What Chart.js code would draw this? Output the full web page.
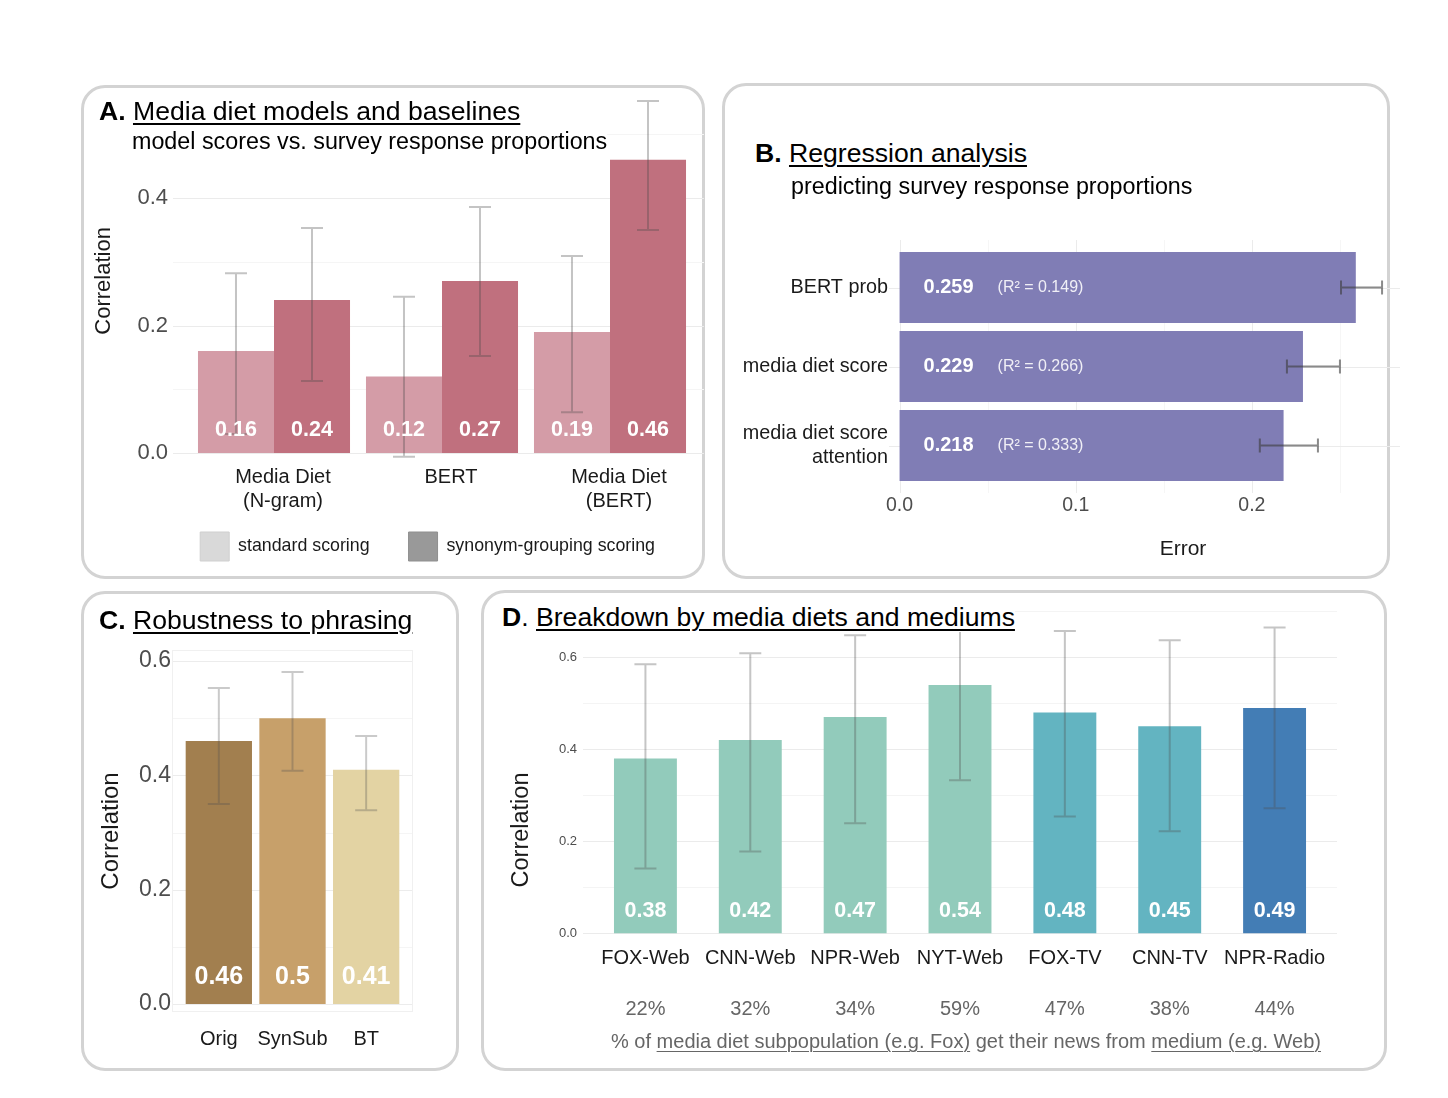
<!DOCTYPE html>
<html><head><meta charset="utf-8">
<script src="https://cdn.jsdelivr.net/npm/chart.js@4.4.1/dist/chart.umd.min.js"></script>
<style>
body{margin:0;background:#fff;width:1448px;height:1098px;position:relative;overflow:hidden;font-family:"Liberation Sans",Arial,Helvetica,sans-serif;}
.box{position:absolute;border:3px solid #d3d3d3;border-radius:24px;box-sizing:border-box;}
.cv{position:absolute;}
.wrap{position:absolute;overflow:hidden;}
.ttl{position:absolute;background:#fff;color:#000;font-size:26.6px;line-height:30px;white-space:nowrap;}
.ttl u{text-decoration-thickness:2px;text-underline-offset:3px;}
.sub{position:absolute;background:#fff;color:#000;font-size:23.3px;line-height:26px;white-space:nowrap;}
.foot{position:absolute;color:#666;font-size:20px;line-height:24px;white-space:nowrap;text-align:center;}
.foot u{text-decoration-thickness:1px;text-underline-offset:3px;}
.ytl{position:absolute;color:#1a1a1a;font-size:23.5px;line-height:28px;white-space:nowrap;width:200px;text-align:center;transform:rotate(-90deg);}
</style>
</head><body>
<div class="box" style="left:81px;top:85px;width:624px;height:494px"></div>
<div class="box" style="left:722px;top:83px;width:668px;height:496px"></div>
<div class="box" style="left:81px;top:591px;width:378px;height:480px"></div>
<div class="box" style="left:481px;top:590px;width:906px;height:481px"></div>

<canvas id="cA" class="cv" style="left:82px;top:86px;width:622px;height:492px" width="622" height="492"></canvas>
<div class="wrap" style="left:723px;top:84px;width:677px;height:494px">
<canvas id="cB" style="position:absolute;left:0;top:0;width:757px;height:494px" width="757" height="494"></canvas>
</div>
<canvas id="cC" class="cv" style="left:82px;top:592px;width:376px;height:478px" width="376" height="478"></canvas>
<canvas id="cD" class="cv" style="left:482px;top:592px;width:904px;height:478px" width="904" height="478"></canvas>

<div class="ttl" style="left:99px;top:96px"><b>A.</b> <u>Media diet models and baselines</u></div>
<div class="sub" style="left:132px;top:128px">model scores vs. survey response proportions</div>
<div class="ttl" style="left:755px;top:138px"><b>B.</b> <u>Regression analysis</u></div>
<div class="sub" style="left:791px;top:173px">predicting survey response proportions</div>
<div class="ttl" style="left:99px;top:605px"><b>C.</b> <u>Robustness to phrasing</u></div>
<div class="ttl" style="left:502px;top:602px"><b>D</b>. <u>Breakdown by media diets and mediums</u></div>
<div class="ytl" style="left:420px;top:816px">Correlation</div>
<div class="foot" style="left:566px;top:1029px;width:800px">% of <u>media diet subpopulation (e.g. Fox)</u> get their news from <u>medium (e.g. Web)</u></div>

<script>
// ---------- DATA ----------
const aCats = [['Media Diet','(N-gram)'], 'BERT', ['Media Diet','(BERT)']];
const aSeries = ['standard scoring', 'synonym-grouping scoring'];
const aStd = [0.16, 0.12, 0.19];
const aSyn = [0.24, 0.27, 0.46];
const aStdLow = [0.03, -0.006, 0.064];
const aStdHigh = [0.282, 0.245, 0.309];
const aSynLow = [0.113, 0.152, 0.35];
const aSynHigh = [0.353, 0.386, 0.552];
const aTicks = [0, 0.2, 0.4];
const aMinor = [0.1, 0.3, 0.5];

const bCats = ['BERT prob', 'media diet score', ['media diet score', 'attention']];
const bErr = [0.259, 0.229, 0.218];
const bR2 = ['0.149', '0.266', '0.333'];
const bLow = [0.2506, 0.2199, 0.2045];
const bHigh = [0.2739, 0.25, 0.2375];
const bTicks = [0, 0.1, 0.2, 0.3];
const bMinor = [0.05, 0.15, 0.25];

const cCats = ['Orig', 'SynSub', 'BT'];
const cVals = [0.46, 0.5, 0.41];
const cLow = [0.35, 0.408, 0.339];
const cHigh = [0.553, 0.581, 0.469];
const cTicks = [0, 0.2, 0.4, 0.6];
const cMinor = [0.1, 0.3, 0.5];

const dCats = ['FOX-Web', 'CNN-Web', 'NPR-Web', 'NYT-Web', 'FOX-TV', 'CNN-TV', 'NPR-Radio'];
const dVals = [0.38, 0.42, 0.47, 0.54, 0.48, 0.45, 0.49];
const dLow = [0.141, 0.178, 0.239, 0.333, 0.254, 0.222, 0.272];
const dHigh = [0.585, 0.609, 0.648, 0.665, 0.657, 0.637, 0.665];
const dPct = ['22%', '32%', '34%', '59%', '47%', '38%', '44%'];
const dTicks = [0, 0.2, 0.4, 0.6];
const dMinor = [0.1, 0.3, 0.5, 0.7];

// ---------- STYLES ----------
const aColors = ['#d49ca7', '#c0707e'];
const aLegendColors = ['#d9d9d9', '#999999'];
const bColor = '#807db5';
const cColors = ['#a27f4f', '#c7a06a', '#e3d3a3'];
const dColors = ['#92cbbb', '#92cbbb', '#92cbbb', '#92cbbb', '#63b4c1', '#63b4c1', '#437db5'];

const FONT = '"Liberation Sans", Arial, Helvetica, sans-serif';
Chart.defaults.font.family = FONT;
Chart.defaults.animation = false;
Chart.defaults.responsive = false;
Chart.defaults.devicePixelRatio = 1;
Chart.defaults.plugins.tooltip.enabled = false;

const fmt1 = v => Number(v).toFixed(1);
const fix = (w, h) => s => {
  if (w != null) s.width = w;
  if (h != null) s.height = h;
  s.paddingTop = 0; s.paddingBottom = 0; s.paddingLeft = 0; s.paddingRight = 0;
};
const setTicks = arr => s => { s.ticks = arr.map(v => ({value: v})); };

// grid plugin
const gridPlugin = {
  id: 'gg',
  beforeDatasetsDraw(chart, args, o) {
    if (!o || !o.on) return;
    const ca = chart.chartArea, ctx = chart.ctx;
    const horiz = chart.options.indexAxis === 'y';
    const vs = horiz ? chart.scales.x : chart.scales.y;
    const cs = horiz ? chart.scales.y : chart.scales.x;
    const ext = o.ext || 0;
    ctx.save();
    ctx.lineWidth = 1;
    const line = (v, color) => {
      const p = Math.round(vs.getPixelForValue(v)) + 0.5;
      ctx.strokeStyle = color;
      ctx.beginPath();
      if (horiz) { ctx.moveTo(p, ca.top - ext); ctx.lineTo(p, ca.bottom + ext); }
      else { ctx.moveTo(ca.left - ext, p); ctx.lineTo(ca.right + ext, p); }
      ctx.stroke();
    };
    (o.minor || []).forEach(v => line(v, o.minorColor || '#f4f4f4'));
    (o.major || []).forEach(v => line(v, o.majorColor || '#ebebeb'));
    if (o.catLines) {
      ctx.strokeStyle = o.majorColor || '#ebebeb';
      cs.ticks.forEach((t, i) => {
        const p = Math.round(cs.getPixelForTick(i)) + 0.5;
        ctx.beginPath();
        if (horiz) { ctx.moveTo(ca.left, p); ctx.lineTo(ca.right, p); }
        else { ctx.moveTo(p, ca.top); ctx.lineTo(p, ca.bottom); }
        ctx.stroke();
      });
    }
    if (o.border) {
      ctx.strokeStyle = o.borderColor || '#efefef';
      ctx.strokeRect(ca.left - ext + 0.5, ca.top + 0.5, ca.width + 2 * ext - 1, ca.height - 1);
    }
    ctx.restore();
  }
};

// error bar plugin
const errPlugin = {
  id: 'err',
  afterDatasetsDraw(chart, args, o) {
    if (!o || !o.sets) return;
    const ctx = chart.ctx;
    const horiz = chart.options.indexAxis === 'y';
    const vs = horiz ? chart.scales.x : chart.scales.y;
    ctx.save();
    o.sets.forEach((set, di) => {
      const meta = chart.getDatasetMeta(di);
      meta.data.forEach((el, i) => {
        const lo = vs.getPixelForValue(set.low[i]);
        const hi = vs.getPixelForValue(set.high[i]);
        const c = o.cap / 2;
        ctx.strokeStyle = o.color;
        ctx.lineWidth = o.width;
        ctx.beginPath();
        if (horiz) {
          const y = el.y;
          ctx.moveTo(lo, y); ctx.lineTo(hi, y);
          ctx.moveTo(lo, y - c); ctx.lineTo(lo, y + c);
          ctx.moveTo(hi, y - c); ctx.lineTo(hi, y + c);
        } else {
          const x = el.x;
          ctx.moveTo(x, lo); ctx.lineTo(x, hi);
          ctx.moveTo(x - c, lo); ctx.lineTo(x + c, lo);
          ctx.moveTo(x - c, hi); ctx.lineTo(x + c, hi);
        }
        ctx.stroke();
      });
    });
    ctx.restore();
  }
};

// value label plugin
const lblPlugin = {
  id: 'vlbl',
  afterDatasetsDraw(chart, args, o) {
    if (!o || !o.items) return;
    const ctx = chart.ctx;
    const horiz = chart.options.indexAxis === 'y';
    const vs = horiz ? chart.scales.x : chart.scales.y;
    const z = vs.getPixelForValue(0);
    ctx.save();
    o.items.forEach(it => {
      const meta = chart.getDatasetMeta(it.di);
      ctx.font = it.font;
      ctx.fillStyle = it.color;
      ctx.textBaseline = 'middle';
      meta.data.forEach((el, i) => {
        const txt = it.texts[i];
        if (horiz) {
          ctx.textAlign = 'left';
          ctx.fillText(txt, z + it.off, el.y);
        } else {
          ctx.textAlign = 'center';
          ctx.fillText(txt, el.x, z - it.off);
        }
      });
    });
    ctx.restore();
  }
};

const plugins = [gridPlugin, errPlugin, lblPlugin];

// ---------- PANEL A ----------
new Chart(document.getElementById('cA'), {
  type: 'bar',
  data: {
    labels: aCats,
    datasets: [
      {label: aSeries[0], data: aStd, backgroundColor: aColors[0], categoryPercentage: 0.905, barPercentage: 1},
      {label: aSeries[1], data: aSyn, backgroundColor: aColors[1], categoryPercentage: 0.905, barPercentage: 1}
    ]
  },
  plugins,
  options: {
    layout: {padding: {left: 0, right: 10, top: 10, bottom: 7}},
    scales: {
      x: {
        grid: {display: false, drawTicks: false}, border: {display: false},
        ticks: {font: {size: 20}, color: '#1a1a1a', padding: -24, labelOffset: 9, maxRotation: 0, autoSkip: false, mirror: true},
        afterFit: fix(null, 27.25)
      },
      y: {
        min: -0.02, max: 0.56,
        grid: {display: false, drawTicks: false}, border: {display: false},
        afterBuildTicks: setTicks(aTicks),
        ticks: {font: {size: 22}, color: '#4d4d4d', padding: 22, callback: fmt1},
        title: {display: true, text: 'Correlation', font: {size: 22}, color: '#1a1a1a', padding: {top: 9, bottom: 0}},
        afterFit: fix(108, null)
      }
    },
    plugins: {
      legend: {
        display: true, position: 'bottom', fullSize: true, align: 'end',
        labels: {
          boxWidth: 29, boxHeight: 29, padding: 39, font: {size: 17.8}, color: '#1a1a1a',
          generateLabels: () => aSeries.map((t, i) => ({text: t, fillStyle: aLegendColors[i], strokeStyle: i === 0 ? '#cfcfcf' : '#8f8f8f', lineWidth: 1, hidden: false, datasetIndex: i, fontColor: '#1a1a1a'}))
        }
      },
      gg: {on: true, major: aTicks, minor: aMinor, ext: 17, majorColor: '#ebebeb', minorColor: '#f5f5f5'},
      err: {width: 2, cap: 22, color: 'rgba(70,70,70,0.32)', sets: [{low: aStdLow, high: aStdHigh}, {low: aSynLow, high: aSynHigh}]},
      vlbl: {items: [
        {di: 0, texts: aStd.map(String), font: 'bold 21.5px ' + FONT, color: '#ffffff', off: 23},
        {di: 1, texts: aSyn.map(String), font: 'bold 21.5px ' + FONT, color: '#ffffff', off: 23}
      ]}
    }
  }
});

// ---------- PANEL B ----------
new Chart(document.getElementById('cB'), {
  type: 'bar',
  data: {
    labels: bCats,
    datasets: [{label: 'Error', data: bErr, backgroundColor: bColor, categoryPercentage: 0.9, barPercentage: 1}]
  },
  plugins,
  options: {
    indexAxis: 'y',
    layout: {padding: {left: 0, right: 3, top: 164, bottom: 0}},
    scales: {
      y: {
        grid: {display: false, drawTicks: false}, border: {display: false},
        ticks: {font: {size: 19.8}, color: '#1a1a1a', padding: 1, autoSkip: false},
        afterFit: fix(166, null)
      },
      x: {
        min: -0.006, max: 0.3278,
        grid: {display: false, drawTicks: false}, border: {display: false},
        afterBuildTicks: setTicks(bTicks),
        ticks: {font: {size: 19.5}, color: '#4d4d4d', padding: 9.3, callback: fmt1, maxRotation: 0},
        title: {display: true, text: 'Error', font: {size: 21}, color: '#1a1a1a', padding: {top: 0, bottom: 16.4}},
        afterFit: fix(null, 93)
      }
    },
    plugins: {
      legend: {display: false},
      gg: {on: true, major: bTicks, minor: bMinor, ext: 8, catLines: true, majorColor: '#ebebeb', minorColor: '#f6f6f6'},
      err: {width: 2, cap: 14, color: 'rgba(60,60,60,0.6)', sets: [{low: bLow, high: bHigh}]},
      vlbl: {items: [
        {di: 0, texts: bErr.map(String), font: 'bold 20px ' + FONT, color: '#ffffff', off: 24},
        {di: 0, texts: bR2.map(r => '(R\u00B2 = ' + r + ')'), font: '16px ' + FONT, color: 'rgba(255,255,255,0.88)', off: 98}
      ]}
    }
  }
});

// ---------- PANEL C ----------
new Chart(document.getElementById('cC'), {
  type: 'bar',
  data: {
    labels: cCats,
    datasets: [{label: 'Correlation', data: cVals, backgroundColor: cColors, categoryPercentage: 0.9, barPercentage: 1}]
  },
  plugins,
  options: {
    layout: {padding: {left: 0, right: 55, top: 58, bottom: 0}},
    scales: {
      x: {
        grid: {display: false, drawTicks: false}, border: {display: false},
        ticks: {font: {size: 20}, color: '#1a1a1a', padding: 15, maxRotation: 0, autoSkip: false},
        afterFit: fix(null, 58)
      },
      y: {
        min: -0.014, max: 0.6194,
        grid: {display: false, drawTicks: false}, border: {display: false},
        afterBuildTicks: setTicks(cTicks),
        ticks: {font: {size: 23}, color: '#4d4d4d', padding: 11, callback: fmt1},
        title: {display: true, text: 'Correlation', font: {size: 24}, color: '#1a1a1a', padding: {top: 15, bottom: 0}},
        afterFit: fix(100, null)
      }
    },
    plugins: {
      legend: {display: false},
      gg: {on: true, major: cTicks, minor: cMinor, ext: 10, border: true, borderColor: '#f0f0f0', majorColor: '#ececec', minorColor: '#f5f5f5'},
      err: {width: 2, cap: 22, color: 'rgba(80,80,80,0.3)', sets: [{low: cLow, high: cHigh}]},
      vlbl: {items: [
        {di: 0, texts: cVals.map(String), font: 'bold 25px ' + FONT, color: '#ffffff', off: 27}
      ]}
    }
  }
});

// ---------- PANEL D ----------
new Chart(document.getElementById('cD'), {
  type: 'bar',
  data: {
    labels: dCats,
    datasets: [{label: 'Correlation', data: dVals, backgroundColor: dColors, categoryPercentage: 0.6, barPercentage: 1}]
  },
  plugins,
  options: {
    layout: {padding: {left: 0, right: 59, top: 17, bottom: 33.8}},
    scales: {
      x: {
        weight: 0,
        grid: {display: false, drawTicks: false}, border: {display: false},
        ticks: {font: {size: 20}, color: '#1a1a1a', padding: 0, maxRotation: 0, autoSkip: false},
        afterFit: fix(null, 30)
      },
      x2: {
        type: 'category', position: 'bottom', weight: 1, offset: true,
        labels: dPct,
        grid: {display: false, drawTicks: false}, border: {display: false},
        ticks: {font: {size: 20}, color: '#666666', padding: 21, maxRotation: 0, autoSkip: false},
        afterFit: fix(null, 60)
      },
      y: {
        min: -0.028, max: 0.705,
        grid: {display: false, drawTicks: false}, border: {display: false},
        afterBuildTicks: setTicks(dTicks),
        ticks: {font: {size: 13}, color: '#4d4d4d', padding: 16, callback: fmt1},
        afterFit: fix(111, null)
      }
    },
    plugins: {
      legend: {display: false},
      gg: {on: true, major: dTicks, minor: dMinor, ext: 10, majorColor: '#ebebeb', minorColor: '#f4f4f4'},
      err: {width: 2, cap: 22, color: 'rgba(80,80,80,0.33)', sets: [{low: dLow, high: dHigh}]},
      vlbl: {items: [
        {di: 0, texts: dVals.map(String), font: 'bold 21.5px ' + FONT, color: '#ffffff', off: 22}
      ]}
    }
  }
});
</script>
</body></html>
